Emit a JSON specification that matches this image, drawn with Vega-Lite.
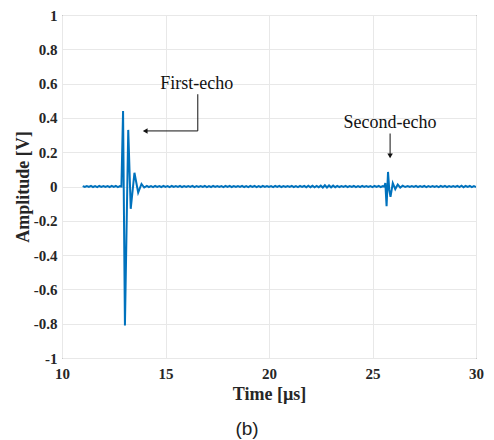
{
  "$schema": "https://vega.github.io/schema/vega-lite/v6.json",
  "width": 414,
  "height": 343,
  "autosize": {"type": "none"},
  "padding": {"left": 62, "top": 15, "right": 18, "bottom": 82},
  "title": {"text": "(b)", "orient": "bottom", "anchor": "middle", "dx": -22, "offset": 17, "font": "Liberation Sans", "fontSize": 19, "fontWeight": "normal", "color": "#222222"},
  "config": {
    "view": {"stroke": "#3a3a3a", "strokeWidth": 1},
    "axis": {"labelFont": "Liberation Serif", "labelFontWeight": "bold", "labelFontSize": 15, "labelColor": "#262626", "labelOverlap": false, "labelFlush": false, "titleFont": "Liberation Serif", "titleFontWeight": "bold", "titleFontSize": 18, "titleColor": "#262626", "domain": false, "ticks": false, "gridColor": "#e8e8e8", "gridWidth": 1}
  },
  "datasets": {
    "sig": [
      {"t": 11.0, "v": 0.002}, {"t": 11.1, "v": -0.003}, {"t": 11.2, "v": 0.003}, {"t": 11.3, "v": -0.002}, {"t": 11.4, "v": 0.004}, {"t": 11.5, "v": -0.003}, {"t": 11.6, "v": 0.002}, {"t": 11.7, "v": -0.004}, {"t": 11.8, "v": 0.003}, {"t": 11.9, "v": -0.002},
      {"t": 12.0, "v": 0.003}, {"t": 12.1, "v": -0.003}, {"t": 12.2, "v": 0.002}, {"t": 12.3, "v": -0.003}, {"t": 12.4, "v": 0.004}, {"t": 12.5, "v": -0.002}, {"t": 12.6, "v": 0.003}, {"t": 12.7, "v": -0.004}, {"t": 12.8, "v": 0.002},
      {"t": 12.87, "v": 0.0}, {"t": 12.95, "v": 0.44}, {"t": 13.04, "v": -0.81}, {"t": 13.2, "v": 0.33}, {"t": 13.32, "v": -0.13}, {"t": 13.5, "v": 0.08}, {"t": 13.68, "v": -0.035}, {"t": 13.84, "v": 0.015}, {"t": 13.97, "v": -0.006},
      {"t": 14.1, "v": 0.004}, {"t": 14.2, "v": -0.003}, {"t": 14.3, "v": 0.002}, {"t": 14.4, "v": -0.004}, {"t": 14.5, "v": 0.003}, {"t": 14.6, "v": -0.002}, {"t": 14.7, "v": 0.003}, {"t": 14.8, "v": -0.003}, {"t": 14.9, "v": 0.004}, {"t": 15.0, "v": -0.002},
      {"t": 15.1, "v": 0.002}, {"t": 15.2, "v": -0.004}, {"t": 15.3, "v": 0.003}, {"t": 15.4, "v": -0.003}, {"t": 15.5, "v": 0.002}, {"t": 15.6, "v": -0.002}, {"t": 15.7, "v": 0.004}, {"t": 15.8, "v": -0.003}, {"t": 15.9, "v": 0.002}, {"t": 16.0, "v": -0.003},
      {"t": 16.1, "v": 0.003}, {"t": 16.2, "v": -0.002}, {"t": 16.3, "v": 0.004}, {"t": 16.4, "v": -0.004}, {"t": 16.5, "v": 0.002}, {"t": 16.6, "v": -0.003}, {"t": 16.7, "v": 0.003}, {"t": 16.8, "v": -0.002}, {"t": 16.9, "v": 0.003}, {"t": 17.0, "v": -0.004},
      {"t": 17.1, "v": 0.002}, {"t": 17.2, "v": -0.003}, {"t": 17.3, "v": 0.004}, {"t": 17.4, "v": -0.002}, {"t": 17.5, "v": 0.003}, {"t": 17.6, "v": -0.003}, {"t": 17.7, "v": 0.002}, {"t": 17.8, "v": -0.004}, {"t": 17.9, "v": 0.003}, {"t": 18.0, "v": -0.002},
      {"t": 18.1, "v": 0.004}, {"t": 18.2, "v": -0.003}, {"t": 18.3, "v": 0.002}, {"t": 18.4, "v": -0.003}, {"t": 18.5, "v": 0.003}, {"t": 18.6, "v": -0.002}, {"t": 18.7, "v": 0.004}, {"t": 18.8, "v": -0.003}, {"t": 18.9, "v": 0.002}, {"t": 19.0, "v": -0.004},
      {"t": 19.1, "v": 0.003}, {"t": 19.2, "v": -0.002}, {"t": 19.3, "v": 0.003}, {"t": 19.4, "v": -0.004}, {"t": 19.5, "v": 0.002}, {"t": 19.6, "v": -0.003}, {"t": 19.7, "v": 0.004}, {"t": 19.8, "v": -0.002}, {"t": 19.9, "v": 0.003}, {"t": 20.0, "v": -0.003},
      {"t": 20.1, "v": 0.002}, {"t": 20.2, "v": -0.004}, {"t": 20.3, "v": 0.003}, {"t": 20.4, "v": -0.002}, {"t": 20.5, "v": 0.004}, {"t": 20.6, "v": -0.003}, {"t": 20.7, "v": 0.002}, {"t": 20.8, "v": -0.003}, {"t": 20.9, "v": 0.003}, {"t": 21.0, "v": -0.002},
      {"t": 21.1, "v": 0.004}, {"t": 21.2, "v": -0.003}, {"t": 21.3, "v": 0.002}, {"t": 21.4, "v": -0.004}, {"t": 21.5, "v": 0.003}, {"t": 21.6, "v": -0.002}, {"t": 21.7, "v": 0.003}, {"t": 21.8, "v": -0.004}, {"t": 21.9, "v": 0.005}, {"t": 22.0, "v": -0.004},
      {"t": 22.1, "v": 0.004}, {"t": 22.2, "v": -0.005}, {"t": 22.3, "v": 0.003}, {"t": 22.4, "v": -0.004}, {"t": 22.5, "v": 0.005}, {"t": 22.6, "v": -0.006}, {"t": 22.7, "v": 0.007}, {"t": 22.8, "v": -0.006}, {"t": 22.9, "v": 0.006}, {"t": 23.0, "v": -0.005},
      {"t": 23.1, "v": 0.005}, {"t": 23.2, "v": -0.004}, {"t": 23.3, "v": 0.004}, {"t": 23.4, "v": -0.003}, {"t": 23.5, "v": 0.003}, {"t": 23.6, "v": -0.002}, {"t": 23.7, "v": 0.004}, {"t": 23.8, "v": -0.003}, {"t": 23.9, "v": 0.002}, {"t": 24.0, "v": -0.003},
      {"t": 24.1, "v": 0.003}, {"t": 24.2, "v": -0.004}, {"t": 24.3, "v": 0.002}, {"t": 24.4, "v": -0.003}, {"t": 24.5, "v": 0.004}, {"t": 24.6, "v": -0.002}, {"t": 24.7, "v": 0.003}, {"t": 24.8, "v": -0.003}, {"t": 24.9, "v": 0.002}, {"t": 25.0, "v": -0.004},
      {"t": 25.1, "v": 0.003}, {"t": 25.2, "v": -0.002}, {"t": 25.3, "v": 0.004}, {"t": 25.4, "v": -0.003}, {"t": 25.5, "v": 0.002},
      {"t": 25.57, "v": 0.0}, {"t": 25.62, "v": 0.02}, {"t": 25.68, "v": -0.115}, {"t": 25.75, "v": 0.085}, {"t": 25.81, "v": -0.02}, {"t": 25.87, "v": -0.06}, {"t": 25.98, "v": 0.02}, {"t": 26.1, "v": -0.015}, {"t": 26.22, "v": 0.012}, {"t": 26.34, "v": -0.006}, {"t": 26.46, "v": 0.005}, {"t": 26.58, "v": -0.003}, {"t": 26.7, "v": 0.002},
      {"t": 26.8, "v": -0.003}, {"t": 26.9, "v": 0.003}, {"t": 27.0, "v": -0.002},
      {"t": 27.1, "v": 0.004}, {"t": 27.2, "v": -0.003}, {"t": 27.3, "v": 0.002}, {"t": 27.4, "v": -0.003}, {"t": 27.5, "v": 0.003}, {"t": 27.6, "v": -0.004}, {"t": 27.7, "v": 0.002}, {"t": 27.8, "v": -0.002}, {"t": 27.9, "v": 0.003}, {"t": 28.0, "v": -0.003},
      {"t": 28.1, "v": 0.002}, {"t": 28.2, "v": -0.004}, {"t": 28.3, "v": 0.003}, {"t": 28.4, "v": -0.002}, {"t": 28.5, "v": 0.004}, {"t": 28.6, "v": -0.003}, {"t": 28.7, "v": 0.002}, {"t": 28.8, "v": -0.003}, {"t": 28.9, "v": 0.003}, {"t": 29.0, "v": -0.002},
      {"t": 29.1, "v": 0.004}, {"t": 29.2, "v": -0.003}, {"t": 29.3, "v": 0.005}, {"t": 29.4, "v": -0.004}, {"t": 29.5, "v": 0.003}, {"t": 29.6, "v": -0.002}, {"t": 29.7, "v": 0.003}, {"t": 29.8, "v": -0.004}, {"t": 29.9, "v": 0.002}, {"t": 30.0, "v": -0.003}
    ],
    "labels": [
      {"t": 16.51, "v": 0.6, "label": "First-echo"},
      {"t": 25.85, "v": 0.37, "label": "Second-echo"}
    ],
    "arrows": [
      {"arrow": "a", "o": 1, "t": 16.56, "v": 0.538},
      {"arrow": "a", "o": 2, "t": 16.56, "v": 0.324},
      {"arrow": "a", "o": 3, "t": 14.05, "v": 0.324},
      {"arrow": "b", "o": 1, "t": 25.85, "v": 0.309},
      {"arrow": "b", "o": 2, "t": 25.85, "v": 0.185}
    ],
    "heads": [
      {"t": 14.02, "v": 0.324, "shape": "triangle-left"},
      {"t": 25.85, "v": 0.178, "shape": "triangle-down"}
    ]
  },
  "encoding": {
    "x": {"field": "t", "type": "quantitative", "scale": {"domain": [10, 30], "nice": false}, "axis": {"title": "Time [µs]", "values": [10, 15, 20, 25, 30], "labelFont": "Liberation Serif", "labelOverlap": false, "labelFlush": false, "labelExpr": "'' + datum.value", "labelPadding": 8, "titlePadding": 4}},
    "y": {"field": "v", "type": "quantitative", "scale": {"domain": [-1, 1], "nice": false}, "axis": {"title": "Amplitude [V]", "values": [-1, -0.8, -0.6, -0.4, -0.2, 0, 0.2, 0.4, 0.6, 0.8, 1], "labelFont": "Liberation Serif", "labelOverlap": false, "labelExpr": "'' + datum.value", "labelPadding": 5, "titlePadding": 1}}
  },
  "layer": [
    {
      "data": {"name": "sig"},
      "mark": {"type": "line", "color": "#0072BD", "strokeWidth": 2, "clip": true},
      "encoding": {
        "order": {"field": "t", "type": "quantitative"}
      }
    },
    {
      "data": {"name": "arrows"},
      "mark": {"type": "line", "color": "#111111", "strokeWidth": 1},
      "encoding": {
        "detail": {"field": "arrow"},
        "order": {"field": "o", "type": "quantitative"}
      }
    },
    {
      "data": {"name": "heads"},
      "mark": {"type": "point", "filled": true, "color": "#111111", "size": 30, "opacity": 1},
      "encoding": {
        "shape": {"field": "shape", "type": "nominal", "scale": null}
      }
    },
    {
      "data": {"name": "labels"},
      "mark": {"type": "text", "font": "Liberation Serif", "fontSize": 18, "color": "#111111", "baseline": "middle", "align": "center"},
      "encoding": {
        "text": {"field": "label"}
      }
    }
  ]
}
